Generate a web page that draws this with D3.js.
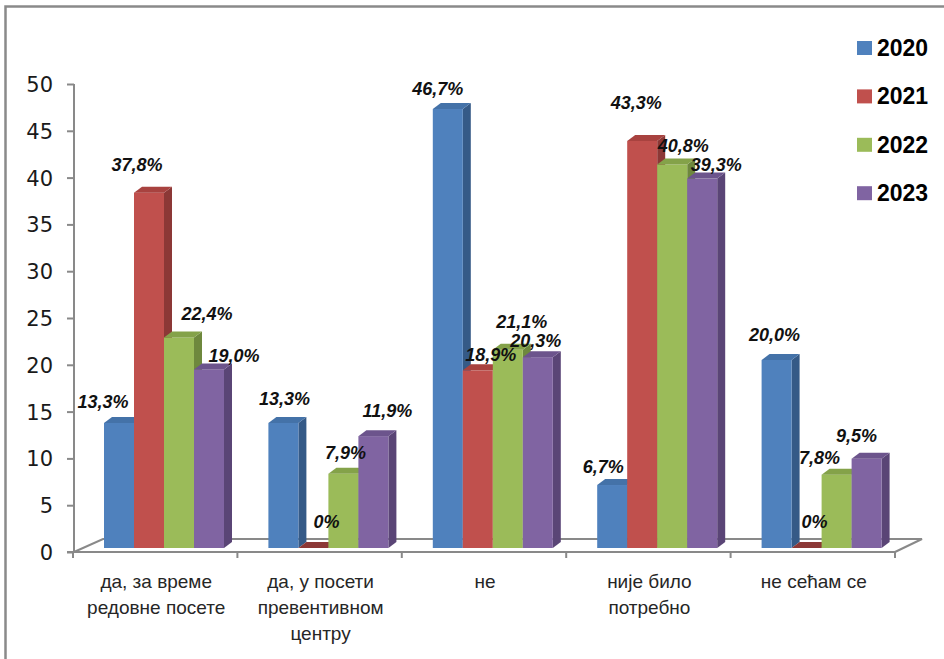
<!DOCTYPE html>
<html>
<head>
<meta charset="utf-8">
<script src="https://cdn.jsdelivr.net/npm/d3@7/dist/d3.min.js"></script>
<style>
  html, body { margin: 0; padding: 0; background: #ffffff; }
  svg { display: block; }
</style>
</head>
<body>
<svg id="chart" width="944" height="659"></svg>
<script>
// Answer categories (line breaks mark wrapped axis labels)
const categories = [
  "да, за време\nредовне посете",
  "да, у посети\nпревентивном\nцентру",
  "не",
  "није било\nпотребно",
  "не сећам се"
];
const years = ["2020", "2021", "2022", "2023"];

// Percentages per year, in category order
const values2020 = [13.3, 13.3, 46.7, 6.7, 20.0];
const values2021 = [37.8, 0, 18.9, 43.3, 0];
const values2022 = [22.4, 7.9, 21.1, 40.8, 7.8];
const values2023 = [19.0, 11.9, 20.3, 39.3, 9.5];

const yTicks = [0, 5, 10, 15, 20, 25, 30, 35, 40, 45, 50];

// Data label placement relative to the top of each bar: [dx, dy]
const labelNudge = [
  [[-16, -21], [-12, -28], [28, -23], [25, -13]],
  [[1, -24], [13, -26], [2, -21], [14, -25]],
  [[-10, -20], [13, -15], [14, -28], [-2, -16]],
  [[-9, -18], [-6, -38], [11, -18], [14, -14]],
  [[-2, -25], [8, -26], [-17, -17], [-10, -23]]
];

const seriesValues = [values2020, values2021, values2022, values2023];

// Front / side / top face colours for each series
const palette = [
  { front: "#4F81BD", side: "#355A87", top: "#4472A8" },
  { front: "#C0504D", side: "#8C3836", top: "#A8423F" },
  { front: "#9BBB59", side: "#6E883D", top: "#84A249" },
  { front: "#8064A2", side: "#5A4576", top: "#6C548C" }
];

const svg = d3.select("#chart");

// Outer frame
svg.append("rect")
  .attr("x", 5.5).attr("y", 6.5)
  .attr("width", 944).attr("height", 670)
  .attr("fill", "none")
  .attr("stroke", "#8a8a8a")
  .attr("stroke-width", 2.5);

// Geometry of the floor and bars
const floorFront = 552, floorBack = 539;
const floorLeft = 74, floorRight = 895, depthX = 28;
const barBase = 548;
const barDX = 8, barDY = -6;

const x = d3.scaleBand().domain(categories).range([floorLeft - 1, floorRight]);
const xInner = d3.scaleBand().domain(years).range([31, 151]);
const yAxisScale = d3.scaleLinear().domain([0, 50]).range([floorFront, 84]);
const yBar = d3.scaleLinear().domain([0, 50]).range([barBase, barBase - 470]);

const gray = "#898989";

// Floor outline
const floor = svg.append("g").attr("stroke", gray).attr("stroke-width", 2).attr("fill", "none");
floor.append("path").attr("d",
  `M${floorLeft},${floorFront} L${floorLeft + depthX + 1},${floorBack} L${floorRight + depthX - 1},${floorBack} L${floorRight},${floorFront}`);

// Y axis
const yAxis = d3.axisLeft(yAxisScale).tickValues(yTicks).tickSize(7).tickFormat(d3.format("d"));
const gy = svg.append("g").attr("transform", `translate(${floorLeft},0)`).call(yAxis);
gy.select(".domain").attr("stroke", gray).attr("stroke-width", 2).attr("d", `M0,84V${floorFront + 1}`);
gy.selectAll(".tick line").attr("stroke", gray).attr("stroke-width", 2);
gy.selectAll(".tick text")
  .attr("x", -21)
  .attr("dy", "0.36em")
  .attr("fill", "#1a1a1a")
  .style("font-family", "'DejaVu Sans', sans-serif")
  .style("font-size", "21px");

// X axis (front floor edge with category ticks)
const xAxis = d3.axisBottom(x).tickSize(0).tickFormat("");
const gx = svg.append("g").attr("transform", `translate(0,${floorFront})`).call(xAxis);
gx.select(".domain").attr("stroke", gray).attr("stroke-width", 2).attr("d", `M${floorLeft - 7},0H${floorRight}`);
gx.selectAll(".tick").remove();
const boundaries = categories.map(c => x(c)).concat([x(categories[categories.length - 1]) + x.bandwidth()]);
gx.selectAll("line.bound").data(boundaries).enter().append("line")
  .attr("class", "bound")
  .attr("x1", d => d).attr("x2", d => d)
  .attr("y1", 0).attr("y2", 6)
  .attr("stroke", gray).attr("stroke-width", 2);

// Category labels
const catLabels = svg.append("g")
  .style("font-family", "'Liberation Sans', Arial, sans-serif")
  .style("font-size", "19px")
  .attr("fill", "#262626")
  .attr("text-anchor", "middle");
categories.forEach(c => {
  const cx = x(c) + x.bandwidth() / 2 + 1;
  const t = catLabels.append("text").attr("x", cx).attr("y", 588);
  c.split("\n").forEach((line, i) => {
    t.append("tspan").attr("x", cx).attr("dy", i === 0 ? 0 : 26).text(line);
  });
});

// 3D bars
const bars = [];
categories.forEach((c, ci) => {
  years.forEach((yr, si) => {
    bars.push({ ci, si, cat: c, year: yr, value: seriesValues[si][ci] });
  });
});

const bw = xInner.bandwidth();
const gBars = svg.append("g");
bars.forEach(b => {
  const x0 = x(b.cat) + xInner(b.year);
  const top = yBar(b.value);
  const col = palette[b.si];
  const g = gBars.append("g");
  if (b.value > 0) {
    // side face
    g.append("path")
      .attr("d", `M${x0 + bw},${top} L${x0 + bw + barDX},${top + barDY} L${x0 + bw + barDX},${barBase + barDY} L${x0 + bw},${barBase}Z`)
      .attr("fill", col.side);
    // front face
    g.append("rect")
      .attr("x", x0).attr("y", top)
      .attr("width", bw).attr("height", barBase - top)
      .attr("fill", col.front);
  }
  // top face
  g.append("path")
    .attr("d", `M${x0},${top} L${x0 + barDX},${top + barDY} L${x0 + bw + barDX},${top + barDY} L${x0 + bw},${top}Z`)
    .attr("fill", b.value > 0 ? col.top : col.side);
});

// Data labels
const fmt = v => v === 0 ? "0%" : v.toFixed(1).replace(".", ",") + "%";
const gLabels = svg.append("g")
  .style("font-family", "'Liberation Sans', Arial, sans-serif")
  .style("font-size", "18px")
  .style("font-weight", "bold")
  .style("font-style", "italic")
  .attr("fill", "#111")
  .attr("text-anchor", "middle");
bars.forEach(b => {
  const cx = x(b.cat) + xInner(b.year) + bw / 2;
  const top = yBar(b.value);
  const n = labelNudge[b.ci][b.si];
  gLabels.append("text")
    .attr("x", cx + n[0])
    .attr("y", top + n[1] + 6)
    .text(fmt(b.value));
});

// Legend
const legend = svg.append("g");
years.forEach((yr, i) => {
  const gy0 = 41 + i * 48.4;
  legend.append("rect")
    .attr("x", 857).attr("y", gy0)
    .attr("width", 15).attr("height", 14)
    .attr("fill", palette[i].front);
  legend.append("text")
    .attr("x", 877).attr("y", gy0 + 15)
    .style("font-family", "'Liberation Sans', Arial, sans-serif")
    .style("font-size", "23px")
    .style("font-weight", "bold")
    .attr("fill", "#000")
    .text(yr);
});
</script>
</body>
</html>
